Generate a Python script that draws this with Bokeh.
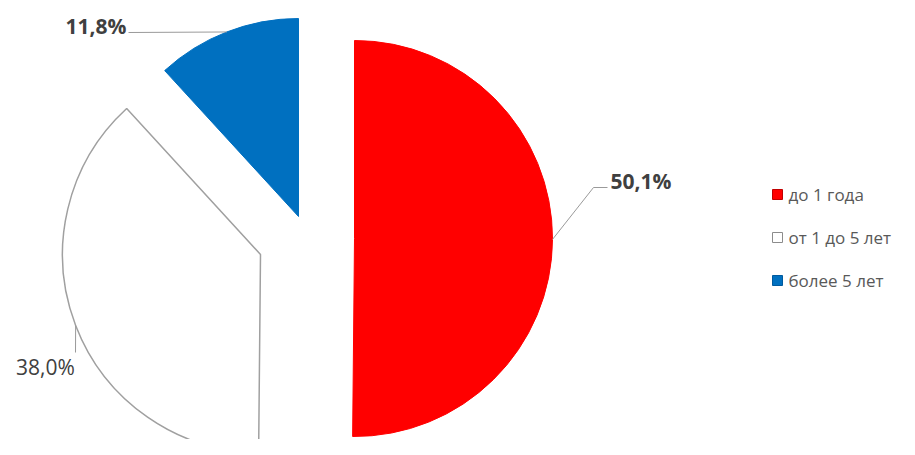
import math
from bokeh.plotting import figure
from bokeh.models import Range1d
from bokeh.core.properties import value
from bokeh.embed import file_html
from bokeh.resources import INLINE

# ---- data ----
categories = ["до 1 года", "от 1 до 5 лет", "более 5 лет"]
values = [50.1, 38.0, 11.8]
pct_labels = ["50,1%", "38,0%", "11,8%"]
colors = ["#FF0000", "#FFFFFF", "#0070C0"]

# ---- style / layout (screen-pixel coordinates) ----
FONT = "Open Sans"
center = (300, 238)
radius = 198
explode = [(54, 0), (-40, 16), (-2, -22)]          # per-slice offset (px, screen)
outline = ["#FF0000", "#A0A0A0", "#0070C0"]
line_w = [1, 1.5, 1]
label_path = [[(593, 187), (607, 187)], [(75, 352)], [(128, 32)]]
label_pos = [(610, 180), (45, 366), (126, 25)]
label_align = ["left", "center", "right"]
label_bold = ["bold", "normal", "bold"]
legend_x, legend_y0, legend_dy = 777, 194, 43

W, H = 899, 439
p = figure(width=W, height=H, output_backend="svg", toolbar_location=None,
           x_range=Range1d(0, W), y_range=Range1d(-H, 0),
           min_border=0, background_fill_color="white", border_fill_color="white")
p.axis.visible = False
p.grid.visible = False
p.outline_line_color = None

total = sum(values)
cum = 0.0
for i, v in enumerate(values):
    t1 = cum / total * 2 * math.pi
    cum += v
    t2 = cum / total * 2 * math.pi
    vx = center[0] + explode[i][0]
    vy = -(center[1] + explode[i][1])
    p.wedge(x=vx, y=vy, radius=radius,
            start_angle=math.pi / 2 - t2, end_angle=math.pi / 2 - t1,
            direction="anticlock", fill_color=colors[i],
            line_color=outline[i], line_width=line_w[i])
    # leader line from bisector point on arc
    bis = (t1 + t2) / 2
    sx = vx + radius * math.sin(bis)
    sy = vy + radius * math.cos(bis)
    xs = [sx] + [pt[0] for pt in label_path[i]]
    ys = [sy] + [-pt[1] for pt in label_path[i]]
    p.line(xs, ys, line_color="#9A9A9A", line_width=1)
    p.text(x=[label_pos[i][0]], y=[-label_pos[i][1]], text=[pct_labels[i]],
           text_font=value(FONT), text_font_size="21px",
           text_font_style=label_bold[i], text_color="#404040",
           text_align=label_align[i], text_baseline="middle")

# ---- legend ----
ly = [-(legend_y0 + k * legend_dy) for k in range(len(categories))]
p.scatter(x=[legend_x] * len(categories), y=ly, marker="square", size=10,
          fill_color=colors, line_color=["#C00000", "#8C8C8C", "#005A9E"], line_width=1)
p.text(x=[legend_x + 11] * len(categories), y=ly, text=categories,
       text_font=value(FONT), text_font_size="17px", text_color="#595959",
       text_align="left", text_baseline="middle")

open("out.html", "w").write(file_html(p, INLINE))
